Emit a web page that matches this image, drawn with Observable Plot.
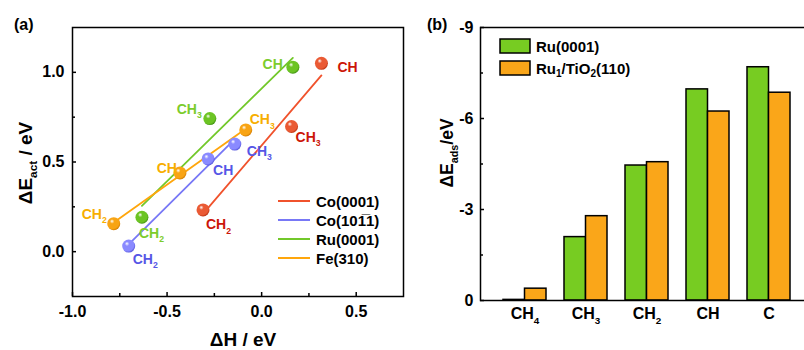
<!DOCTYPE html>
<html><head><meta charset="utf-8">
<script src="https://cdn.jsdelivr.net/npm/d3@7"></script>
<script src="https://cdn.jsdelivr.net/npm/@observablehq/plot@0.6"></script>
<style>
body{margin:0;background:#fff;}
#wrap{position:relative;width:804px;height:350px;overflow:hidden;font-family:"Liberation Sans",Arial,sans-serif;font-weight:bold;color:#000;}
.panel{position:absolute;top:0;}
.plabel{position:absolute;font-size:16px;line-height:16px;}
.leg{position:absolute;font-size:15px;line-height:15px;white-space:nowrap;}
.leg sub{font-size:10px;vertical-align:-3px;line-height:0;}
</style></head><body><div id="wrap"></div>
<script>
// ---------- Data: panel (a) ----------
const surfaces = ["Co(0001)", "Co(10\u0031\u03051)", "Ru(0001)", "Fe(310)"];
const coSpecies = ["CH_{2}", "CH_{3}", "CH"];
const coDH = [-0.31, 0.158, 0.316];
const coEact = [0.233, 0.698, 1.05];
const co1011Species = ["CH_{2}", "CH", "CH_{3}"];
const co1011DH = [-0.703, -0.283, -0.142];
const co1011Eact = [0.031, 0.517, 0.600];
const ruSpecies = ["CH_{2}", "CH_{3}", "CH"];
const ruDH = [-0.633, -0.274, 0.165];
const ruEact = [0.192, 0.742, 1.029];
const feSpecies = ["CH_{2}", "CH", "CH_{3}"];
const feDH = [-0.782, -0.432, -0.084];
const feEact = [0.156, 0.439, 0.679];
const xTicksA = [-1.0, -0.5, 0.0, 0.5];
const yTicksA = [0.0, 0.5, 1.0];

// ---------- Data: panel (b) ----------
const adsorbates = ["CH_{4}", "CH_{3}", "CH_{2}", "CH", "C"];
const ruAds = [-0.02, -2.09, -4.45, -6.96, -7.69];
const tiAds = [-0.39, -2.78, -4.56, -6.23, -6.85];
const yTicksB = [-9, -6, -3, 0];
const catalysts = ["Ru(0001)", "Ru<sub>1</sub>/TiO<sub>2</sub>(110)"];

// ---------- Styling / layout ----------
const lineColors = ["#f0522c", "#7878f6", "#72c82a", "#ffa60c"];
const ballColors = ["#ea5a34", "#8a8aff", "#6cc424", "#f8a414"];
const ballDark = ["#b8300e", "#5050d8", "#3f9012", "#d07a00"];
const textColors = ["#cc1608", "#5656e6", "#7ccc2c", "#f7ae00"];
const barColors = ["#77cc22", "#faa619"];
const labelOffsets = [
  [[3, 15, "start"], [4, 11, "start"], [16, 4, "start"]],
  [[4, 13, "start"], [5, 12, "start"], [12, 7, "start"]],
  [[-3, 16, "start"], [-8, -9, "end"], [-10, -3, "end"]],
  [[-7, -9, "end"], [-3, -4, "end"], [4, -10, "start"]]
];

const seriesA = [
  [coSpecies, coDH, coEact],
  [co1011Species, co1011DH, co1011Eact],
  [ruSpecies, ruDH, ruEact],
  [feSpecies, feDH, feEact]
].map(([sp, dh, ea], i) => sp.map((s, j) => ({surface: surfaces[i], species: s, dH: dh[j], Eact: ea[j]})));

const font = '"Liberation Sans", Arial, sans-serif';
const baseStyle = {fontFamily: font, fontWeight: "bold", fontSize: "16px", color: "#000", background: "transparent", overflow: "visible"};

const wrap = document.getElementById("wrap");
const NS = "http://www.w3.org/2000/svg";

function applySubs(svg) {
  svg.querySelectorAll("text").forEach(t => {
    const holders = t.querySelectorAll("tspan").length ? [...t.querySelectorAll("tspan")] : [t];
    holders.forEach(el => {
      const s = el.textContent;
      if (!s.includes("_{")) return;
      const fs = parseFloat(getComputedStyle(el).fontSize) || 16;
      const parts = s.split(/_\{([^}]*)\}/);
      el.textContent = "";
      const shift = fs * 0.3;
      let subbed = false;
      parts.forEach((p, i) => {
        if (p === "") return;
        const ts = document.createElementNS(NS, "tspan");
        ts.textContent = p;
        if (i % 2 === 1) { ts.setAttribute("font-size", (fs * 0.62).toFixed(1)); ts.setAttribute("dy", shift.toFixed(1)); subbed = true; }
        else if (subbed) { ts.setAttribute("dy", (-shift).toFixed(1)); subbed = false; }
        el.appendChild(ts);
      });
    });
  });
}

// ---------- Panel (a) ----------
const pa = Plot.plot({
  width: 410, height: 350,
  marginLeft: 72, marginTop: 27, marginRight: 7, marginBottom: 54,
  style: baseStyle,
  x: {domain: [-1, 0.75], label: null},
  y: {domain: [-0.25, 1.25], label: null},
  marks: [
    Plot.axisX({ticks: xTicksA, tickSize: -4, tickPadding: 13, tickFormat: d => d.toFixed(1), strokeWidth: 1.5, label: null}),
    Plot.axisX({ticks: [-0.75, -0.25, 0.25], tickSize: -3, tickFormat: () => "", strokeWidth: 1.5, label: null}),
    Plot.axisY({ticks: yTicksA, tickSize: -4, tickPadding: 12, tickFormat: d => d.toFixed(1), strokeWidth: 1.5, label: null}),
    Plot.axisY({ticks: [0.25, 0.75], tickSize: -3, tickFormat: () => "", strokeWidth: 1.5, label: null}),
    ...seriesA.map((rows, i) => Plot.linearRegressionY(rows, {x: "dH", y: "Eact", stroke: lineColors[i], strokeWidth: 1.8, ci: 0})),
    ...seriesA.map((rows, i) => Plot.dot(rows, {x: "dH", y: "Eact", r: 6.5, fill: `url(#ball${i})`, stroke: "none"})),
    ...seriesA.flatMap((rows, i) => rows.map((r, j) => Plot.text([r], {
      x: "dH", y: "Eact", text: "species", fill: textColors[i], fontSize: 14,
      dx: labelOffsets[i][j][0], dy: labelOffsets[i][j][1], textAnchor: labelOffsets[i][j][2]
    }))),
    Plot.frame({stroke: "#000", strokeWidth: 1.5}),
    Plot.text(["ΔH / eV"], {frameAnchor: "bottom", dx: 5, dy: 49, fontSize: 19}),
    Plot.text(["ΔE_{act} / eV"], {frameAnchor: "left", textAnchor: "middle", dx: -47, dy: 1, rotate: -90, fontSize: 19})
  ]
});
const defs = document.createElementNS(NS, "defs");
defs.innerHTML = ballColors.map((c, i) =>
  `<radialGradient id="ball${i}" cx="0.42" cy="0.4" r="0.62" fx="0.36" fy="0.3">
     <stop offset="0" stop-color="#ffffff"/><stop offset="0.28" stop-color="${c}"/><stop offset="0.8" stop-color="${c}"/><stop offset="1" stop-color="${ballDark[i]}"/>
   </radialGradient>`).join("");
pa.insertBefore(defs, pa.firstChild);
pa.classList.add("panel");
pa.style.left = "0px";
wrap.appendChild(pa);
applySubs(pa);

// ---------- Panel (b) ----------
const barsB = adsorbates.map((a, i) => ({ads: a, ru: ruAds[i], ti: tiAds[i]}));
const pb = Plot.plot({
  width: 420, height: 350,
  marginLeft: 80, marginRight: 8, marginTop: 27, marginBottom: 50,
  style: baseStyle,
  x: {domain: adsorbates, paddingInner: 0.3, paddingOuter: 0.349, label: null},
  y: {domain: [0, -9], label: null},
  marks: [
    Plot.barY(barsB, {x: "ads", y1: 0, y2: "ru", fill: barColors[0], stroke: "#000", strokeWidth: 1.5, insetRight: 21.5}),
    Plot.barY(barsB, {x: "ads", y1: 0, y2: "ti", fill: barColors[1], stroke: "#000", strokeWidth: 1.5, insetLeft: 21.5}),
    Plot.frame({stroke: "#000", strokeWidth: 1.5}),
    Plot.axisY({ticks: yTicksB, tickSize: -4, tickPadding: 11, tickFormat: d => String(d), strokeWidth: 1.5, label: null}),
    Plot.axisY({ticks: [-7.5, -4.5, -1.5], tickSize: -3, tickFormat: () => "", strokeWidth: 1.5, label: null}),
    Plot.axisX({tickSize: 0, tickPadding: 7, tickFormat: d => d, label: null}),
    Plot.text(["ΔE_{ads}/eV"], {frameAnchor: "left", textAnchor: "middle", dx: -33, dy: -11, rotate: -90, fontSize: 17.5})
  ]
});
pb.classList.add("panel");
pb.style.left = "400px";
wrap.appendChild(pb);
applySubs(pb);

// ---------- Panel labels ----------
[["(a)", 14, 17], ["(b)", 427, 17]].forEach(([t, x, y]) => {
  const d = document.createElement("div");
  d.className = "plabel"; d.textContent = t;
  d.style.left = x + "px"; d.style.top = y + "px";
  wrap.appendChild(d);
});

// ---------- Legend (a) ----------
surfaces.forEach((s, i) => {
  const y = 201 + i * 19;
  const l = document.createElement("div");
  l.className = "leg";
  l.style.left = "278px"; l.style.top = (y - 8) + "px";
  l.innerHTML = `<svg width="34" height="16" style="vertical-align:top;margin-right:4px"><line x1="0" x2="32" y1="8" y2="8" stroke="${lineColors[i]}" stroke-width="2"/></svg><span style="position:relative;top:1px">${s}</span>`;
  wrap.appendChild(l);
});

// ---------- Legend (b) ----------
catalysts.forEach((c, i) => {
  const y = 46 + i * 22;
  const l = document.createElement("div");
  l.className = "leg";
  l.style.left = "499px"; l.style.top = (y - 8) + "px";
  l.innerHTML = `<svg width="34" height="16" style="vertical-align:top;margin-right:3px"><rect x="1" y="1" width="30" height="14" fill="${barColors[i]}" stroke="#000" stroke-width="1.5"/></svg><span style="position:relative;top:1px">${c}</span>`;
  wrap.appendChild(l);
});
</script></body></html>
